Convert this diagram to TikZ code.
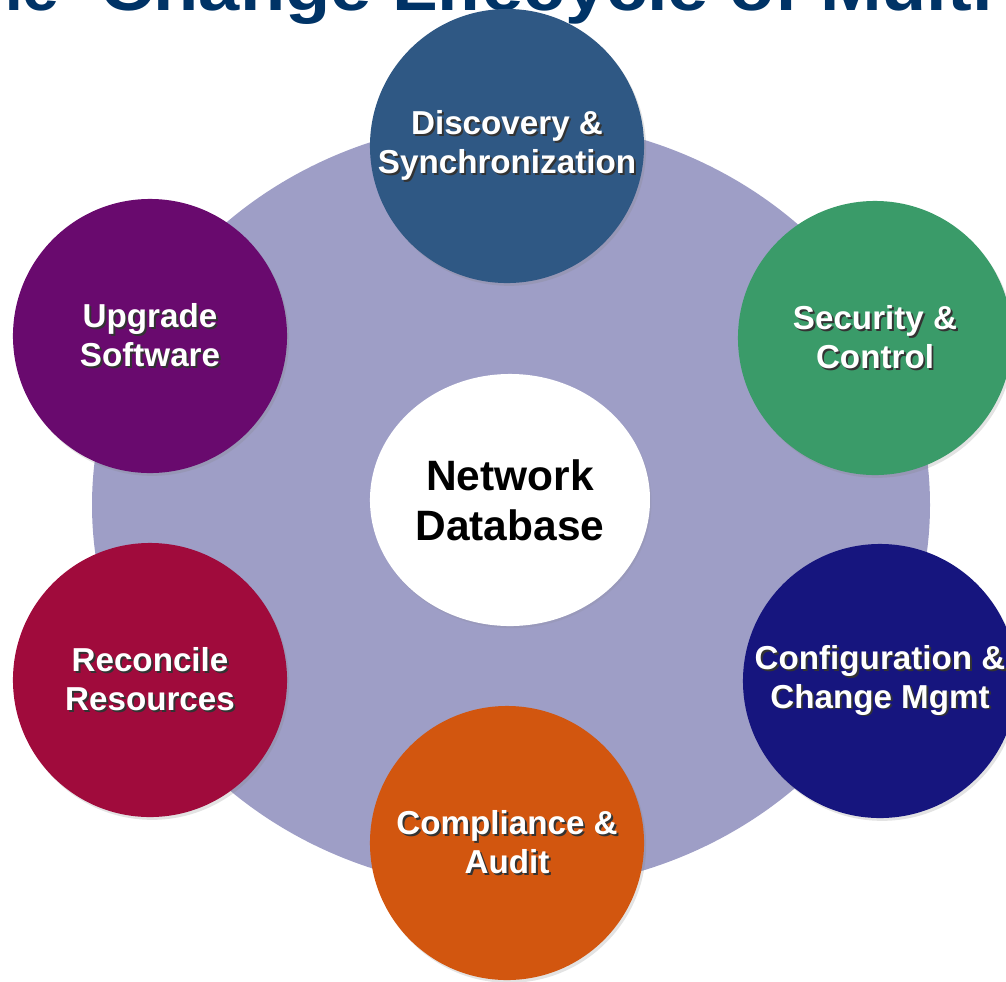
\documentclass[tikz,border=0pt]{standalone}
\usepackage{fontspec}
\setmainfont{Liberation Sans}
\usetikzlibrary{shapes.geometric,shadows}

\definecolor{discblue}{HTML}{2F5884}
\definecolor{secgreen}{HTML}{3A9B69}
\definecolor{confnavy}{HTML}{16157E}
\definecolor{comporange}{HTML}{D2560F}
\definecolor{reconred}{HTML}{A00B3C}
\definecolor{upgpurple}{HTML}{690A6E}
\definecolor{ringlav}{HTML}{9E9EC6}
\definecolor{titleblue}{HTML}{003366}

% bubble fill: flat middle, darker rim
\colorlet{bubin}{white}
\colorlet{bubout}{gray}
\pgfdeclareradialshading[bubin,bubout]{bubble}{\pgfpoint{0bp}{0bp}}{color(0bp)=(bubin); color(33bp)=(bubin); color(50bp)=(bubout)}

\newcommand\shtxt[1]{\makebox[0pt][l]{\hspace{1.4pt}\raisebox{-1.4pt}{\color{black!80}#1}}#1}

\tikzset{
	bubble colors/.code 2 args={\colorlet{bubin}{#1}\colorlet{bubout}{#2}},
	bubble/.style={circle, minimum size=6.85cm, inner sep=0pt, bubble colors={#1}{#1!70!black}, shading=bubble,
		drop shadow={opacity=0.22, shadow xshift=1.5pt, shadow yshift=-2pt},
		text=white, align=center, font=\fontsize{23.6}{27.7}\selectfont\bfseries},
	hub/.style={ellipse, minimum width=7cm, minimum height=6.3cm, inner sep=0pt, bubble colors={white}{black!22}, shading=bubble,
		drop shadow={opacity=0.15, shadow xshift=1pt, shadow yshift=-1.5pt},
		text=black, align=center, font=\fontsize{30.2}{35.6}\selectfont\bfseries},
	headline/.style={inner sep=0pt, text=titleblue, font=\fontsize{47}{50}\selectfont\bfseries}
}

\begin{document}
\begin{tikzpicture}[x=0.025cm, y=-0.025cm]
	\useasboundingbox (0,0) rectangle (1006,981);
	\clip (0,0) rectangle (1006,981);
	% title, cut by the top edge
	\node[headline, anchor=base east] (ttlhead) at (60,10) {he};
	\node[headline, anchor=base west, xscale=1.12] (ttl) at (100,10) {Change Lifecycle of Multi};
	% ring behind the bubbles
	\fill[ringlav] (511,505) ellipse [x radius=419, y radius=385];
	\node[hub] (netdb) at (510,500) {Network\\Database};
	\node[bubble=discblue] (disc) at (507,146) {\shtxt{Discovery \&}\\\shtxt{Synchronization}};
	\node[bubble=secgreen] (sec) at (875,338) {\shtxt{Security \&}\\\shtxt{Control}};
	\node[bubble=confnavy] (conf) at (880,681) {\shtxt{Configuration \&}\\\shtxt{Change Mgmt}};
	\node[bubble=comporange] (comp) at (507,843) {\shtxt{Compliance \&}\\\shtxt{Audit}};
	\node[bubble=reconred] (recon) at (150,680) {\shtxt{Reconcile}\\\shtxt{Resources}};
	\node[bubble=upgpurple] (upg) at (150,336) {\shtxt{Upgrade}\\\shtxt{Software}};
\end{tikzpicture}
\end{document}
